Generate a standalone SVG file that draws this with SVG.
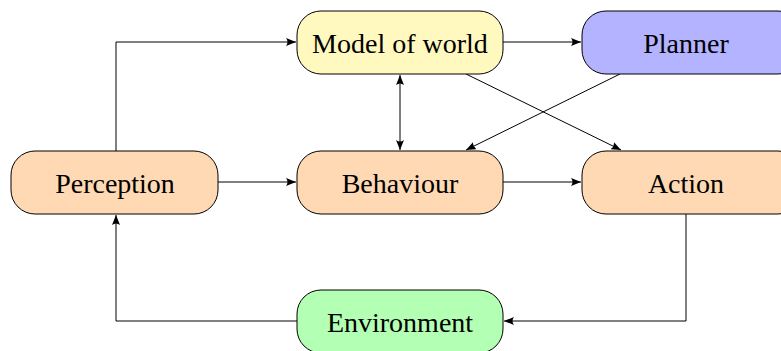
<svg xmlns="http://www.w3.org/2000/svg" width="781" height="351" viewBox="0 0 781 351">
<style>
.n{stroke:#000;stroke-width:1}
.t{font-family:"Liberation Serif","Times New Roman",serif;font-size:28px;fill:#000;text-anchor:middle;dominant-baseline:central}
.e{fill:none;stroke:#000;stroke-width:1}
</style>
<defs>
<marker id="a" viewBox="0 0 10 8" refX="10" refY="4" markerWidth="10" markerHeight="8" markerUnits="userSpaceOnUse" orient="auto-start-reverse">
<path d="M0,0 Q3,4 0,8 L10,4 Z" fill="#000"/>
</marker>
</defs>
<g id="edges">
<path class="e" d="M116,151 V42 H296" marker-end="url(#a)"/>
<path class="e" d="M503,42 H581" marker-end="url(#a)"/>
<path class="e" d="M400,75 V150" marker-start="url(#a)" marker-end="url(#a)"/>
<path class="e" d="M466,74 L621,150" marker-end="url(#a)"/>
<path class="e" d="M620,74 L466,150" marker-end="url(#a)"/>
<path class="e" d="M218,182 H296" marker-end="url(#a)"/>
<path class="e" d="M503,182 H581" marker-end="url(#a)"/>
<path class="e" d="M686,214 V321 H504" marker-end="url(#a)"/>
<path class="e" d="M297,321 H116 V215" marker-end="url(#a)"/>
</g>
<g id="model"><rect class="n" x="297" y="11" width="206" height="63" rx="24" fill="#fff9bf"/><text class="t" x="400" y="43">Model of world</text></g>
<g id="planner"><rect class="n" x="582" y="11" width="220" height="63" rx="24" fill="#b3b3ff"/><text class="t" x="686" y="43">Planner</text></g>
<g id="perception"><rect class="n" x="11" y="151" width="207" height="63" rx="24" fill="#ffd9b3"/><text class="t" x="115" y="183">Perception</text></g>
<g id="behaviour"><rect class="n" x="297" y="151" width="206" height="63" rx="24" fill="#ffd9b3"/><text class="t" x="400" y="183">Behaviour</text></g>
<g id="action"><rect class="n" x="582" y="151" width="220" height="63" rx="24" fill="#ffd9b3"/><text class="t" x="686" y="183">Action</text></g>
<g id="environment"><rect class="n" x="297" y="290" width="206" height="63" rx="24" fill="#b3ffb3"/><text class="t" x="400" y="322">Environment</text></g>
</svg>
